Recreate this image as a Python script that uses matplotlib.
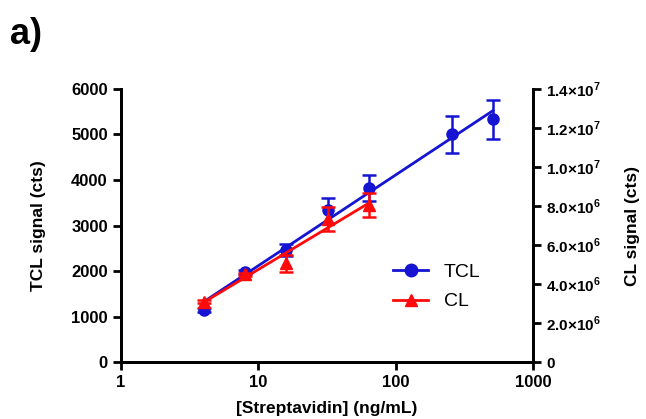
import numpy as np
import matplotlib
matplotlib.use('Agg')
import matplotlib.pyplot as plt
from matplotlib.ticker import FixedLocator, FuncFormatter

plt.rcParams['font.family'] = ['Liberation Sans', 'DejaVu Sans']
plt.rcParams['mathtext.fontset'] = 'custom'
plt.rcParams['mathtext.rm'] = 'Liberation Sans:bold'
plt.rcParams['mathtext.bf'] = 'Liberation Sans:bold'

# Данные
conc_tcl = np.array([4, 8, 16, 32, 64, 256, 512])
tcl = np.array([1150, 1980, 2460, 3330, 3820, 5000, 5330])
tcl_err = np.array([40, 40, 125, 270, 290, 400, 430])

conc_cl = np.array([4, 8, 16, 32, 64])
cl = np.array([3.09e6, 4.51e6, 5.06e6, 7.33e6, 8.05e6])
cl_err = np.array([0.08e6, 0.08e6, 0.45e6, 0.6e6, 0.62e6])

blue = '#1414d2'
red = '#ff0a0a'

fig = plt.figure(figsize=(6.46, 4.19), dpi=100)
ax = fig.add_axes([0.1873, 0.136, 0.6378, 0.6516])
ax2 = ax.twinx()

# линейная аппроксимация в полулогарифмических координатах
k1, b1 = np.polyfit(np.log10(conc_tcl), tcl, 1)
k2, b2 = np.polyfit(np.log10(conc_cl), cl, 1)
xf1 = np.array([conc_tcl.min(), conc_tcl.max()])
xf2 = np.array([conc_cl.min(), conc_cl.max()])

ax.errorbar(conc_tcl, tcl, yerr=tcl_err, fmt='o', color=blue, ms=8,
            capsize=5, elinewidth=1.8, capthick=1.8, zorder=3)
ax.plot(xf1, k1 * np.log10(xf1) + b1, color=blue, lw=2, zorder=3)
ax.plot([], [], color=blue, marker='o', ms=9, lw=2, label='TCL')
ax.plot([], [], color=red, marker='^', ms=9, lw=2, label='CL')

ax2.errorbar(conc_cl, cl, yerr=cl_err, fmt='^', color=red, ms=8,
             capsize=5, elinewidth=1.8, capthick=1.8, zorder=3)
ax2.plot(xf2, k2 * np.log10(xf2) + b2, color=red, lw=2, zorder=3)

ax.set_xscale('log')
ax.set_xlim(1, 1000)
ax.set_ylim(0, 6000)
ax2.set_ylim(0, 1.4e7)
ax.xaxis.set_major_locator(FixedLocator([1, 10, 100, 1000]))
ax.xaxis.set_minor_locator(FixedLocator([]))
ax.xaxis.set_major_formatter(FuncFormatter(lambda v, p: f'{v:g}'))
ax.set_yticks(np.arange(0, 6001, 1000))
ax2.set_yticks(np.arange(0, 1.41e7, 2e6))


def sci(v, p):
    if v == 0:
        return '0'
    e = int(np.floor(np.log10(v)))
    return r'$%.1f{\times}10^{%d}$' % (v / 10 ** e, e)


ax2.yaxis.set_major_formatter(FuncFormatter(sci))

for a in (ax, ax2):
    a.spines['top'].set_visible(False)
    for s in ('left', 'bottom', 'right'):
        a.spines[s].set_linewidth(2)
    a.tick_params(width=2, length=6, labelsize=12)
    for lab in a.get_xticklabels() + a.get_yticklabels():
        lab.set_fontweight('bold')
ax2.tick_params(labelsize=11)

ax.set_xlabel('[Streptavidin] (ng/mL)', fontsize=12.5, fontweight='bold', labelpad=8)
ax.set_ylabel('TCL signal (cts)', fontsize=12.5, fontweight='bold', labelpad=18)
ax2.set_ylabel('CL signal (cts)', fontsize=12.5, fontweight='bold', labelpad=17)

ax.legend(loc='lower right', bbox_to_anchor=(0.915, 0.125), frameon=False,
          fontsize=14, handlelength=1.8, labelspacing=0.6)

fig.text(0.015, 0.895, 'a)', fontsize=26, fontweight='bold')

fig.savefig('out.png', dpi=100)
